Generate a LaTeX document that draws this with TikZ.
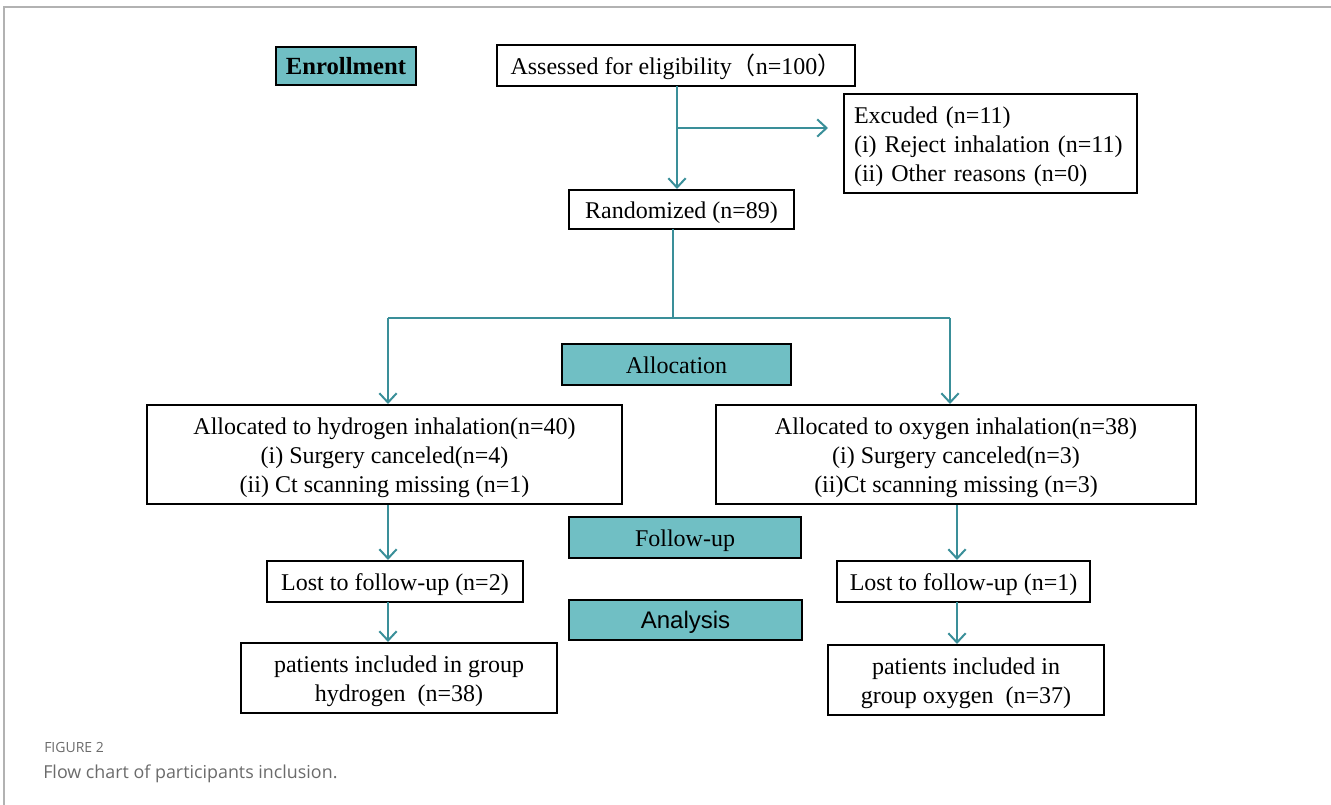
\documentclass[tikz,border=0pt]{standalone}
\usepackage{fontspec}
\setmainfont{Liberation Serif}
\newfontfamily\capfont{Open Sans}
\newfontfamily\arialf{Liberation Sans}
\newfontfamily\cjk{Noto Sans CJK SC}
\usetikzlibrary{arrows.meta}
\definecolor{teal1}{HTML}{3A8F99}
\definecolor{tealfill}{HTML}{70BFC4}
\definecolor{capgray}{HTML}{6B6B6B}
\newcommand\dnc[1]{\raisebox{-2.3pt}[\height][\depth]{\begin{tabular}{@{}c@{}}#1\end{tabular}}}
\newcommand\dnl[1]{\raisebox{-2.3pt}[\height][\depth]{\begin{tabular}{@{}l@{}}#1\end{tabular}}}
\tikzset{
  box/.style={draw=black,line width=1.5pt,inner sep=0pt,font=\fontsize{18}{22}\selectfont},
  hdr/.style={box,fill=tealfill},
  conn/.style={draw=teal1,line width=1.5pt},
  arr/.style={conn,-{Straight Barb[length=7pt,width=13pt,line width=1.5pt]}}
}
\begin{document}
\begin{tikzpicture}[x=0.75pt,y=-0.75pt]
\useasboundingbox (0,0) rectangle (1331,805);
\draw[gray!60,line width=1pt] (4,805) -- (4,7) -- (1331,7);
% header boxes
\node[hdr,minimum width=140*0.75pt,minimum height=38*0.75pt,font=\fontsize{18.5}{22}\selectfont\bfseries] (enr) at (346,66) {\dnc{Enrollment}};
\node[hdr,minimum width=229*0.75pt,minimum height=41*0.75pt] (alloc) at (676.5,364.5) {\dnc{Allocation}};
\node[hdr,minimum width=232*0.75pt,minimum height=41*0.75pt] (fu) at (685,537.5) {\dnc{Follow-up}};
\node[hdr,minimum width=233*0.75pt,minimum height=40*0.75pt,font=\arialf\fontsize{18}{22}\selectfont] (ana) at (685.5,620) {\dnc{Analysis}};
% flow boxes
\node[box,minimum width=358*0.75pt,minimum height=41*0.75pt] (ass) at (676,65.5) {\dnc{Assessed for eligibility{\cjk （}n=100{\cjk ）}}};
\node[box,minimum width=289*0.75pt,minimum height=99*0.75pt,text width=273*0.75pt,inner xsep=10*0.75pt] (exc) at (990.5,143.5) {\dnl{Excuded (n=11)\\(i) Reject inhalation (n=11)\\(ii) Other reasons (n=0)}};
\node[box,minimum width=225*0.75pt,minimum height=39*0.75pt] (rand) at (681.5,209.5) {\dnc{Randomized (n=89)}};
\node[box,minimum width=475*0.75pt,minimum height=99*0.75pt] (la) at (384.5,454.5) {\dnc{Allocated to hydrogen inhalation(n=40)\\(i) Surgery canceled(n=4)\\(ii) Ct scanning missing (n=1)}};
\node[box,minimum width=480*0.75pt,minimum height=99*0.75pt] (ra) at (956,454.5) {\dnc{Allocated to oxygen inhalation(n=38)\\(i) Surgery canceled(n=3)\\(ii)Ct scanning missing (n=3)}};
\node[box,minimum width=256*0.75pt,minimum height=41*0.75pt] (ll) at (395,581.5) {\dnc{Lost to follow-up (n=2)}};
\node[box,minimum width=253*0.75pt,minimum height=41*0.75pt] (rl) at (963.5,581.5) {\dnc{Lost to follow-up (n=1)}};
\node[box,minimum width=316*0.75pt,minimum height=70*0.75pt] (lp) at (399,678) {\dnc{patients included in group\\hydrogen\enspace(n=38)}};
\node[box,minimum width=276*0.75pt,minimum height=70*0.75pt] (rp) at (966,680) {\dnc{patients included in\\group oxygen\enspace(n=37)}};
% connectors
\coordinate (s1) at (677,86);
\coordinate (b1) at (677,128);
\coordinate (e1) at (828,128);
\draw[arr] (s1) -- (s1 |- rand.north);
\draw[arr] (b1) -- (e1);
\coordinate (r1) at (673,229);
\coordinate (r2) at (673,318);
\coordinate (hl) at (388,318);
\coordinate (hr) at (950,318);
\draw[conn] (r1) -- (r2);
\draw[conn] (hl) -- (hr);
\draw[arr] (hl) -- (hl |- la.north);
\draw[arr] (hr) -- (hr |- ra.north);
\coordinate (l1) at (388,505);
\coordinate (l2) at (388,602);
\coordinate (q1) at (957,505);
\coordinate (q2) at (957,602);
\draw[arr] (l1) -- (l1 |- ll.north);
\draw[arr] (l2) -- (l2 |- lp.north);
\draw[arr] (q1) -- (q1 |- rl.north);
\draw[arr] (q2) -- (q2 |- rp.north);
% caption
\node[anchor=base west,font=\capfont\fontsize{10.5}{12}\selectfont,text=capgray,inner sep=0pt] (fig) at (44,752) {FIGURE 2};
\node[anchor=base west,font=\capfont\fontsize{13.4}{16}\selectfont,text=capgray,inner sep=0pt] (capt) at (43,778) {Flow chart of participants inclusion.};
\end{tikzpicture}
\end{document}
